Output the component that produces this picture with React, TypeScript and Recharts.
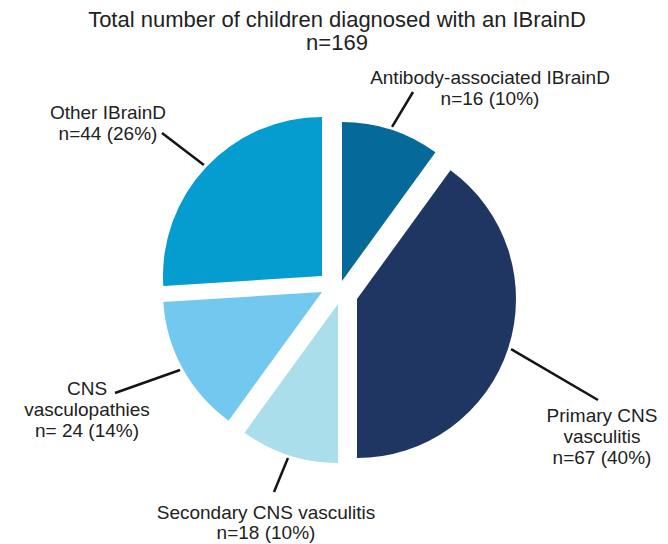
import React from 'react';
import { PieChart, Pie } from 'recharts';

// ---- data ----
const categories = [
  'Antibody-associated IBrainD',
  'Primary CNS vasculitis',
  'Secondary CNS vasculitis',
  'CNS vasculopathies',
  'Other IBrainD',
];
const counts = [16, 67, 18, 24, 44];
const percents = [10, 40, 10, 14, 26];
const countLabels = ['n=16', 'n=67', 'n=18', 'n= 24', 'n=44'];
const nameLines = [
  ['Antibody-associated IBrainD'],
  ['Primary CNS', 'vasculitis'],
  ['Secondary CNS vasculitis'],
  ['CNS', 'vasculopathies'],
  ['Other IBrainD'],
];
const titleLines = ['Total number of children diagnosed with an IBrainD', 'n=169'];

// ---- styles / layout ----
const colors = ['#05699a', '#1f3562', '#a9deea', '#72c8ef', '#059ccf'];
const sliceCenters = [
  [342, 281],
  [357, 299],
  [338, 304],
  [322, 292],
  [322, 276],
];
const labelPos = [
  { x: 490, y: 84, end: [413, 92] },
  { x: 602, y: 422, end: [598, 400] },
  { x: 266, y: 519, end: [274, 492] },
  { x: 87, y: 395, end: [115, 393] },
  { x: 108, y: 119, end: [162, 133] },
];
const RADIUS = 159;
const FONT = "'Liberation Sans', Arial, Helvetica, sans-serif";
const RAD = Math.PI / 180;

const total = percents.reduce((a, b) => a + b, 0);
const rows = categories.map((name, i) => ({ name, value: percents[i], count: counts[i] }));

const makeLabel = (i: number) => (props: any) => {
  const { cx, cy, midAngle, outerRadius } = props;
  const r = outerRadius + 3;
  const sx = cx + r * Math.cos(-midAngle * RAD);
  const sy = cy + r * Math.sin(-midAngle * RAD);
  const pos = labelPos[i];
  const lines = [...nameLines[i], `${countLabels[i]} (${percents[i]}%)`];
  return (
    <g>
      <line x1={sx} y1={sy} x2={pos.end[0]} y2={pos.end[1]} stroke="#151515" strokeWidth={2.5} />
      <text x={pos.x} y={pos.y} textAnchor="middle" fontFamily={FONT} fontSize={19} fill="#222">
        {lines.map((t, k) => (
          <tspan key={k} x={pos.x} dy={k === 0 ? 0 : i === 2 ? 20 : 21}>
            {t}
          </tspan>
        ))}
      </text>
    </g>
  );
};

export default function App() {
  let acc = 0;
  const pies = rows.map((row, i) => {
    const start = 90 - (acc / total) * 360;
    acc += row.value;
    const end = 90 - (acc / total) * 360;
    return (
      <Pie
        key={row.name}
        data={[row]}
        dataKey="value"
        nameKey="name"
        cx={sliceCenters[i][0]}
        cy={sliceCenters[i][1]}
        startAngle={start}
        endAngle={end}
        outerRadius={RADIUS}
        innerRadius={0}
        fill={colors[i]}
        stroke="none"
        isAnimationActive={false}
        label={makeLabel(i)}
        labelLine={false}
      />
    );
  });

  return (
    <div style={{ position: 'absolute', left: 0, top: 0, width: 668, height: 544, background: '#fff' }}>
      <div
        style={{
          position: 'absolute',
          left: 0,
          top: 8,
          width: 674,
          textAlign: 'center',
          fontFamily: FONT,
          fontSize: 22,
          lineHeight: '23px',
          color: '#222',
        }}
      >
        {titleLines.map((t) => (
          <div key={t}>{t}</div>
        ))}
      </div>
      <PieChart width={668} height={544} margin={{ top: 0, right: 0, bottom: 0, left: 0 }}>
        {pies}
      </PieChart>
    </div>
  );
}
